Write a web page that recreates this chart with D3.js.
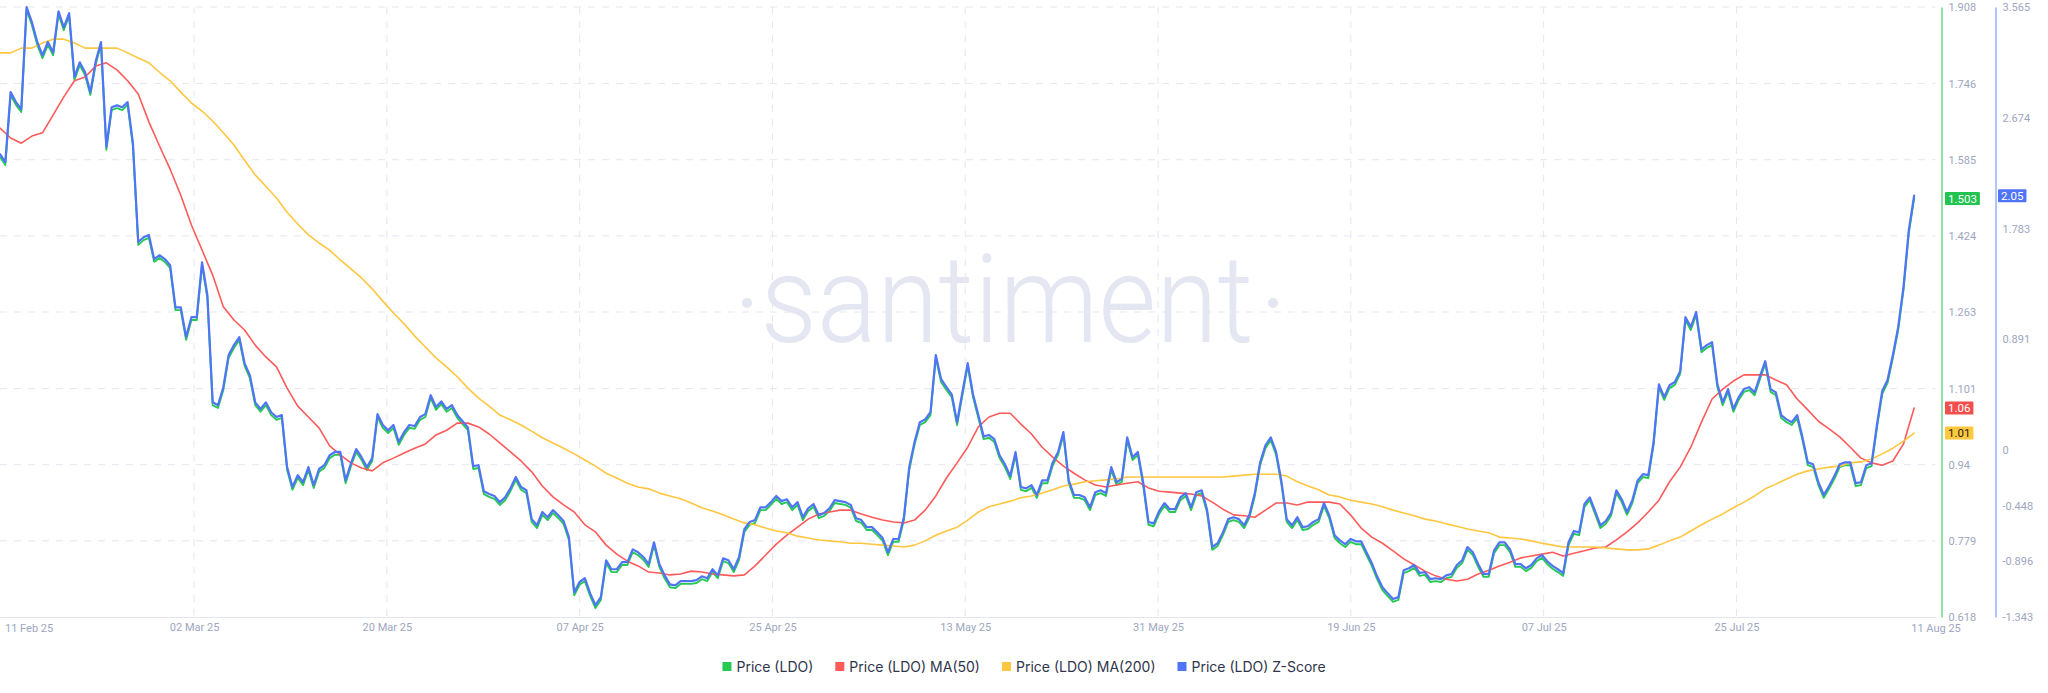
<!DOCTYPE html>
<html><head><meta charset="utf-8">
<script src="https://cdn.jsdelivr.net/npm/d3@7/dist/d3.min.js"></script>
<style>body{margin:0;background:#fff}svg{display:block}</style>
</head><body><svg id="c" width="2048" height="693"></svg>
<script>
// ---------------- DATA ----------------
const priceStart = "2025-02-12T00:00:00Z";   // price sampled every 12 hours
const priceStepHours = 12;
const maStepHours = 24;                       // moving averages sampled daily
const price = [
1.591,1.574,1.722,1.701,1.686,1.902,1.870,1.828,1.800,1.828,
1.806,1.893,1.859,1.889,1.754,1.785,1.764,1.722,1.787,1.828,
1.606,1.690,1.694,1.690,1.701,1.614,1.405,1.415,1.420,1.369,
1.377,1.369,1.356,1.267,1.267,1.204,1.246,1.246,1.362,1.293,
1.066,1.060,1.098,1.166,1.187,1.204,1.149,1.123,1.066,1.052,
1.066,1.045,1.035,1.039,0.929,0.887,0.912,0.897,0.929,0.891,
0.925,0.933,0.954,0.961,0.961,0.901,0.937,0.967,0.950,0.929,
0.948,1.041,1.018,1.007,1.018,0.982,1.003,1.018,1.016,1.035,
1.041,1.081,1.056,1.068,1.052,1.060,1.039,1.026,1.013,0.931,
0.933,0.878,0.872,0.868,0.855,0.865,0.884,0.908,0.887,0.880,
0.819,0.806,0.834,0.823,0.838,0.827,0.815,0.781,0.664,0.686,
0.694,0.662,0.637,0.654,0.732,0.713,0.713,0.728,0.728,0.755,
0.749,0.739,0.724,0.770,0.724,0.700,0.681,0.679,0.688,0.688,
0.688,0.690,0.698,0.694,0.713,0.700,0.736,0.732,0.713,0.739,
0.798,0.813,0.817,0.844,0.844,0.855,0.868,0.857,0.861,0.844,
0.855,0.823,0.842,0.851,0.827,0.832,0.842,0.859,0.857,0.855,
0.849,0.821,0.817,0.802,0.802,0.791,0.779,0.749,0.777,0.777,
0.823,0.929,0.982,1.024,1.030,1.045,1.166,1.115,1.098,1.083,
1.024,1.087,1.149,1.083,1.039,0.994,0.997,0.988,0.954,0.935,
0.910,0.961,0.887,0.884,0.891,0.870,0.901,0.901,0.939,0.961,
1.003,0.901,0.870,0.870,0.865,0.844,0.876,0.880,0.874,0.929,
0.897,0.904,0.992,0.950,0.961,0.897,0.813,0.810,0.836,0.853,
0.840,0.840,0.865,0.874,0.844,0.876,0.880,0.840,0.760,0.768,
0.791,0.819,0.823,0.819,0.806,0.829,0.874,0.939,0.975,0.992,
0.961,0.899,0.819,0.806,0.823,0.802,0.804,0.813,0.819,0.853,
0.827,0.785,0.774,0.766,0.777,0.772,0.772,0.749,0.726,0.698,
0.675,0.662,0.650,0.654,0.711,0.715,0.722,0.705,0.707,0.692,
0.694,0.692,0.700,0.703,0.722,0.732,0.760,0.749,0.724,0.703,
0.703,0.753,0.770,0.770,0.755,0.724,0.724,0.715,0.722,0.736,
0.743,0.730,0.720,0.713,0.705,0.770,0.794,0.791,0.851,0.865,
0.836,0.806,0.815,0.832,0.880,0.861,0.834,0.859,0.901,0.914,
0.912,0.982,1.104,1.077,1.102,1.109,1.132,1.246,1.225,1.257,
1.178,1.187,1.193,1.104,1.066,1.094,1.052,1.077,1.094,1.098,
1.087,1.121,1.153,1.094,1.087,1.039,1.030,1.024,1.039,0.992,
0.939,0.935,0.897,0.870,0.889,0.910,0.935,0.939,0.939,0.895,
0.897,0.933,0.937,1.018,1.090,1.113,1.166,1.225,1.310,1.430,
1.503];
const ma50 = [
1.652,1.631,1.620,1.635,1.642,1.680,1.718,1.752,1.760,1.783,
1.790,1.775,1.752,1.724,1.665,1.614,1.565,1.510,1.447,1.394,
1.341,1.274,1.246,1.225,1.193,1.168,1.147,1.102,1.064,1.041,
1.018,0.980,0.961,0.944,0.933,0.927,0.944,0.954,0.965,0.975,
0.984,1.003,1.013,1.028,1.028,1.020,1.005,0.986,0.967,0.948,
0.925,0.895,0.872,0.855,0.840,0.813,0.798,0.770,0.751,0.736,
0.726,0.713,0.711,0.707,0.709,0.715,0.713,0.709,0.707,0.705,
0.707,0.726,0.749,0.772,0.791,0.808,0.825,0.836,0.840,0.844,
0.844,0.836,0.829,0.823,0.819,0.817,0.823,0.844,0.874,0.912,
0.944,0.977,1.020,1.041,1.049,1.049,1.026,1.005,0.977,0.956,
0.937,0.922,0.908,0.897,0.893,0.897,0.901,0.904,0.891,0.884,
0.882,0.880,0.878,0.874,0.861,0.846,0.834,0.832,0.829,0.844,
0.859,0.859,0.855,0.861,0.861,0.861,0.857,0.834,0.806,0.787,
0.774,0.758,0.741,0.728,0.715,0.705,0.698,0.694,0.698,0.709,
0.717,0.726,0.734,0.743,0.747,0.751,0.755,0.747,0.753,0.758,
0.764,0.766,0.781,0.798,0.817,0.840,0.865,0.904,0.935,0.977,
1.030,1.079,1.100,1.117,1.130,1.130,1.130,1.119,1.109,1.079,
1.056,1.032,1.016,0.999,0.977,0.954,0.944,0.939,0.948,0.984,
1.060];
const ma200 = [
1.811,1.811,1.821,1.821,1.832,1.840,1.840,1.832,1.821,1.821,
1.821,1.821,1.811,1.800,1.790,1.770,1.752,1.728,1.705,1.688,
1.667,1.642,1.616,1.584,1.553,1.529,1.504,1.474,1.449,1.426,
1.409,1.394,1.373,1.354,1.335,1.312,1.286,1.261,1.238,1.212,
1.189,1.166,1.147,1.126,1.102,1.081,1.064,1.045,1.035,1.024,
1.011,0.997,0.986,0.975,0.963,0.950,0.937,0.922,0.912,0.901,
0.893,0.889,0.880,0.874,0.868,0.859,0.849,0.842,0.834,0.825,
0.817,0.813,0.806,0.800,0.796,0.789,0.785,0.781,0.779,0.777,
0.774,0.774,0.772,0.770,0.768,0.766,0.770,0.779,0.791,0.800,
0.808,0.823,0.840,0.851,0.857,0.863,0.870,0.874,0.880,0.887,
0.895,0.899,0.904,0.906,0.908,0.910,0.914,0.914,0.914,0.914,
0.914,0.914,0.914,0.914,0.914,0.914,0.916,0.918,0.920,0.920,
0.920,0.916,0.904,0.895,0.887,0.876,0.872,0.865,0.861,0.857,
0.851,0.844,0.838,0.832,0.825,0.821,0.815,0.810,0.804,0.800,
0.796,0.787,0.785,0.783,0.779,0.774,0.770,0.766,0.766,0.766,
0.766,0.764,0.762,0.760,0.760,0.762,0.770,0.779,0.787,0.800,
0.813,0.825,0.836,0.849,0.861,0.874,0.889,0.899,0.910,0.920,
0.927,0.931,0.935,0.937,0.944,0.946,0.952,0.963,0.975,0.990,
1.007];
// Z-score of the price over the window (mean / standard deviation of the price)
const zMean = 0.9650, zStd = 0.26284;

const priceTicks = [1.908,1.746,1.585,1.424,1.263,1.101,0.94,0.779,0.618];
const zTicks = [3.565,2.674,1.783,0.891,0,-0.448,-0.896,-1.343];
const xTickLabels = ["02 Mar 25","20 Mar 25","07 Apr 25","25 Apr 25","13 May 25","31 May 25","19 Jun 25","07 Jul 25","25 Jul 25"];
const xTickFirst = "2025-03-02T06:00:00Z", xTickEveryDays = 18.13;
const xEdgeLabels = ["11 Feb 25","11 Aug 25"];
const seriesNames = ["Price (LDO)","Price (LDO) MA(50)","Price (LDO) MA(200)","Price (LDO) Z-Score"];

// ---------------- STYLE ----------------
const C = {green:"#26c953", red:"#ff5a5a", yellow:"#ffc63f", blue:"#4f74f8",
           blueAxis:"#6a86fb", grid:"#e4e7f0", tick:"#9ea6bf", legend:"#30354a"};
const HOUR = 3600e3, DAY = 864e5;
const t0 = Date.parse(priceStart);
const svg = d3.select("#c");
const plotTop = 7, plotBottom = 617, plotRight = 1935.4;

const x = d3.scaleUtc().domain([new Date(t0), new Date(t0 + 182*DAY)]).range([0, plotRight]);
const y = d3.scaleLinear().domain([0.618, 1.908]).range([plotBottom, plotTop]);
const yz = d3.scaleLinear().domain([-1.343, 3.565]).range([plotBottom, plotTop]);

const priceData = price.map((v,i)=>({t:new Date(t0 + i*priceStepHours*HOUR), v}));
const ma50Data = ma50.map((v,i)=>({t:new Date(t0 + i*maStepHours*HOUR), v}));
const ma200Data = ma200.map((v,i)=>({t:new Date(t0 + i*maStepHours*HOUR), v}));
const zData = priceData.map(d=>({t:d.t, v:(d.v - zMean)/zStd}));
const xTickDates = xTickLabels.map((_,k)=>new Date(Date.parse(xTickFirst) + k*xTickEveryDays*DAY));

svg.append("rect").attr("width",2048).attr("height",693).attr("fill","#fff");

// grid
const grid = svg.append("g");
grid.selectAll("line.h").data(priceTicks.slice(0,-1)).join("line")
  .attr("x1",0).attr("x2",plotRight).attr("y1",d=>y(d)).attr("y2",d=>y(d))
  .attr("stroke",C.grid).attr("stroke-width",1).attr("stroke-dasharray","7,7");
grid.selectAll("line.v").data(xTickDates).join("line")
  .attr("x1",d=>x(d)).attr("x2",d=>x(d)).attr("y1",plotTop).attr("y2",plotBottom)
  .attr("stroke",C.grid).attr("stroke-width",1).attr("stroke-dasharray","7,7");

// watermark
const wm = svg.append("g").attr("fill","#e4e7f1");
wm.append("text").attr("x",1007).attr("y",342).attr("text-anchor","middle")
  .attr("font-family","Roboto, 'Noto Sans', sans-serif").attr("font-weight",300)
  .attr("font-size",122).attr("textLength",493).attr("lengthAdjust","spacingAndGlyphs")
  .text("santiment");
wm.append("circle").attr("cx",747).attr("cy",303).attr("r",5);
wm.append("circle").attr("cx",1273).attr("cy",303).attr("r",5);

// bottom axis
const xAxis = svg.append("g").attr("transform",`translate(0,${plotBottom})`)
  .call(d3.axisBottom(x).tickValues(xTickDates).tickFormat((d,i)=>xTickLabels[i]).tickSize(0).tickSizeOuter(0).tickPadding(6));
xAxis.select(".domain").attr("stroke","#e2e5ee");
xAxis.selectAll("text").attr("fill",C.tick).attr("font-family","Roboto, sans-serif").attr("font-size",11);
const edge = svg.append("g").attr("fill",C.tick).attr("font-family","Roboto, sans-serif").attr("font-size",11);
edge.append("text").attr("x",5).attr("y",632).text(xEdgeLabels[0]);
edge.append("text").attr("x",1936).attr("y",632).attr("text-anchor","middle").text(xEdgeLabels[1]);

// right axes
const pAxis = svg.append("g").attr("transform","translate(1941.5,0)")
  .call(d3.axisRight(y).tickValues(priceTicks).tickFormat(d=>String(d)).tickSize(0).tickSizeOuter(0).tickPadding(7));
pAxis.select(".domain").attr("stroke",C.green).attr("stroke-width",1);
pAxis.selectAll("text").attr("fill",C.tick).attr("font-family","Roboto, sans-serif").attr("font-size",11);
const zAxis = svg.append("g").attr("transform","translate(1995.5,0)")
  .call(d3.axisRight(yz).tickValues(zTicks).tickFormat(d=>String(d)).tickSize(0).tickSizeOuter(0).tickPadding(7));
zAxis.select(".domain").attr("stroke",C.blueAxis).attr("stroke-width",1);
zAxis.selectAll("text").attr("fill",C.tick).attr("font-family","Roboto, sans-serif").attr("font-size",11);

// lines
const lineP = d3.line().x(d=>x(d.t)).y(d=>y(d.v));
const lineZ = d3.line().x(d=>x(d.t)).y(d=>yz(d.v));
const lines = svg.append("g").attr("fill","none").attr("stroke-linejoin","round").attr("stroke-linecap","round");
lines.append("path").datum(priceData).attr("d",lineP).attr("stroke",C.green).attr("stroke-width",1.9);
lines.append("path").datum(ma50Data).attr("d",lineP).attr("stroke",C.red).attr("stroke-width",1.6);
lines.append("path").datum(ma200Data).attr("d",lineP).attr("stroke",C.yellow).attr("stroke-width",1.6);
lines.append("path").datum(zData).attr("d",lineZ).attr("stroke",C.blue).attr("stroke-width",2.2);

// value badges
function badge(x0, yv, txt, bg, fg){
  const g = svg.append("g");
  const r = g.append("rect").attr("fill",bg).attr("rx",1);
  const t = g.append("text").attr("x",x0+3).attr("y",yv).attr("dy","0.35em")
    .attr("font-family","Roboto, sans-serif").attr("font-size",11.5).attr("fill",fg).text(txt);
  const w = t.node().getComputedTextLength();
  r.attr("x",x0).attr("y",yv-6.5).attr("width",w+6).attr("height",13);
}
const lastP = price[price.length-1], last50 = ma50[ma50.length-1], last200 = ma200[ma200.length-1];
const lastZ = zData[zData.length-1].v;
badge(1945, y(lastP), lastP.toFixed(3), "#22c34f", "#fff");
badge(1945, y(last50), last50.toFixed(2), "#f24e4e", "#fff");
badge(1945, y(last200), last200.toFixed(2), "#ffc83d", "#1b1b1b");
badge(1998, yz(lastZ), lastZ.toFixed(2), "#4f74f8", "#fff");

// legend
const legCols = [C.green, C.red, C.yellow, C.blue];
const leg = svg.append("g");
let lx = 0;
seriesNames.forEach((n,i)=>{
  const g = leg.append("g");
  g.append("rect").attr("width",9).attr("height",9).attr("y",-5).attr("fill",legCols[i]);
  const t = g.append("text").attr("x",14).attr("dy","0.35em").attr("font-family","Inter, Roboto, sans-serif")
    .attr("font-size",14).attr("fill",C.legend).text(n);
  const w = 14 + t.node().getComputedTextLength();
  g.attr("transform",`translate(${lx},0)`);
  lx += w + 22;
});
const totalW = lx - 22;
leg.attr("transform",`translate(${1024 - totalW/2},667)`);
</script></body></html>
